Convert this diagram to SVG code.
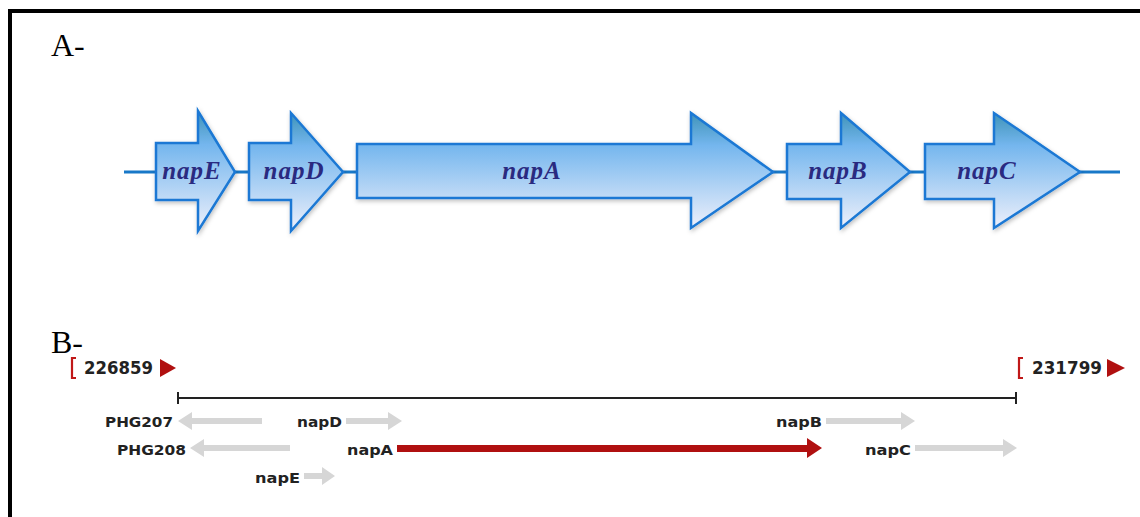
<svg xmlns="http://www.w3.org/2000/svg" width="1140" height="517" viewBox="0 0 1140 517">
<defs>
<linearGradient id="gA" x1="0" y1="0" x2="0" y2="1">
<stop offset="0" stop-color="#3f93b8"/>
<stop offset="0.28" stop-color="#74b6ee"/>
<stop offset="1" stop-color="#eef0fb"/>
</linearGradient>
<filter id="sh" x="-10%" y="-10%" width="120%" height="130%">
<feDropShadow dx="1" dy="2" stdDeviation="2" flood-color="#000" flood-opacity="0.25"/>
</filter>
</defs>
<style>
.gene{fill:url(#gA);stroke:#1a78d4;stroke-width:2.5;stroke-linejoin:miter;filter:url(#sh)}
.gl{font-family:"Liberation Serif",serif;font-weight:bold;font-style:italic;font-size:25px;fill:#2a2a80;text-anchor:middle;letter-spacing:1px}
.panel{font-family:"Liberation Serif",serif;font-size:32px;fill:#000}
.lb{font-family:"DejaVu Sans",sans-serif;font-weight:bold;font-size:14px;fill:#222}
.num{font-family:"DejaVu Sans",sans-serif;font-weight:bold;font-size:17px;fill:#222}
.gray{fill:#d6d6d6}
.red{fill:#b01010}
</style>
<rect width="1140" height="517" fill="#fff"/>
<rect x="8" y="9" width="1132" height="4" fill="#000"/>
<rect x="8" y="9" width="4" height="508" fill="#000"/>
<text class="panel" x="51" y="56">A-</text>
<text class="panel" x="51" y="353">B-</text>
<g id="connectors">
<line x1="124" y1="172" x2="1120" y2="172" stroke="#1878c8" stroke-width="3"/>
</g>
<g id="napE"><path class="gene" d="M156,143 H198 V111 L235,172 L198,231 V200 H156 Z"/><text class="gl" x="192" y="179">napE</text></g>
<g id="napD"><path class="gene" d="M249,143 H291 V113 L343,172 L291,231 V200 H249 Z"/><text class="gl" x="294" y="179">napD</text></g>
<g id="napA"><path class="gene" d="M357,144 H691 V113 L773,172 L691,228 V198 H357 Z"/><text class="gl" x="532" y="179">napA</text></g>
<g id="napB"><path class="gene" d="M787,144 H841 V113 L910,172 L841,228 V199 H787 Z"/><text class="gl" x="838" y="179">napB</text></g>
<g id="napC"><path class="gene" d="M925,144 H994 V113 L1080,172 L994,228 V199 H925 Z"/><text class="gl" x="987" y="179">napC</text></g>
<g id="start">
<path d="M76,358 H72 V378 H76" fill="none" stroke="#c01818" stroke-width="2.2"/>
<text class="num" x="84" y="374" textLength="69" lengthAdjust="spacingAndGlyphs">226859</text>
<path class="red" d="M160,359 L176,368 L160,377 Z"/>
</g>
<g id="end">
<path d="M1023,358 H1019 V378 H1023" fill="none" stroke="#c01818" stroke-width="2.2"/>
<text class="num" x="1032" y="374" textLength="70" lengthAdjust="spacingAndGlyphs">231799</text>
<path class="red" d="M1107,359 L1125,368 L1107,377 Z"/>
</g>
<g id="scale">
<line x1="178" y1="398" x2="1016" y2="398" stroke="#222" stroke-width="2"/>
<line x1="178" y1="392" x2="178" y2="404" stroke="#222" stroke-width="2"/>
<line x1="1016" y1="392" x2="1016" y2="404" stroke="#222" stroke-width="2"/>
</g>
<g id="PHG207">
<text class="lb" x="105" y="427" textLength="68" lengthAdjust="spacingAndGlyphs">PHG207</text>
<path class="gray" d="M178,421 L192,412 V418 H262 V424 H192 V430 Z"/>
</g>
<g id="b-napD">
<text class="lb" x="297" y="427" textLength="45" lengthAdjust="spacingAndGlyphs">napD</text>
<path class="gray" d="M346,418 H388 V412 L402,421 L388,430 V424 H346 Z"/>
</g>
<g id="b-napB">
<text class="lb" x="776" y="427" textLength="46" lengthAdjust="spacingAndGlyphs">napB</text>
<path class="gray" d="M826,418 H901 V412 L915,421 L901,430 V424 H826 Z"/>
</g>
<g id="PHG208">
<text class="lb" x="117" y="455" textLength="69" lengthAdjust="spacingAndGlyphs">PHG208</text>
<path class="gray" d="M190,448 L204,439 V445 H290 V451 H204 V457 Z"/>
</g>
<g id="b-napA">
<text class="lb" x="347" y="455" textLength="46" lengthAdjust="spacingAndGlyphs">napA</text>
<path class="red" d="M397,445 H807 V438 L822,448 L807,458 V452 H397 Z"/>
</g>
<g id="b-napC">
<text class="lb" x="865" y="455" textLength="46" lengthAdjust="spacingAndGlyphs">napC</text>
<path class="gray" d="M915,445 H1003 V439 L1017,448 L1003,457 V451 H915 Z"/>
</g>
<g id="b-napE">
<text class="lb" x="255" y="483" textLength="45" lengthAdjust="spacingAndGlyphs">napE</text>
<path class="gray" d="M304,473 H322 V467 L335,476 L322,485 V479 H304 Z"/>
</g>
</svg>
